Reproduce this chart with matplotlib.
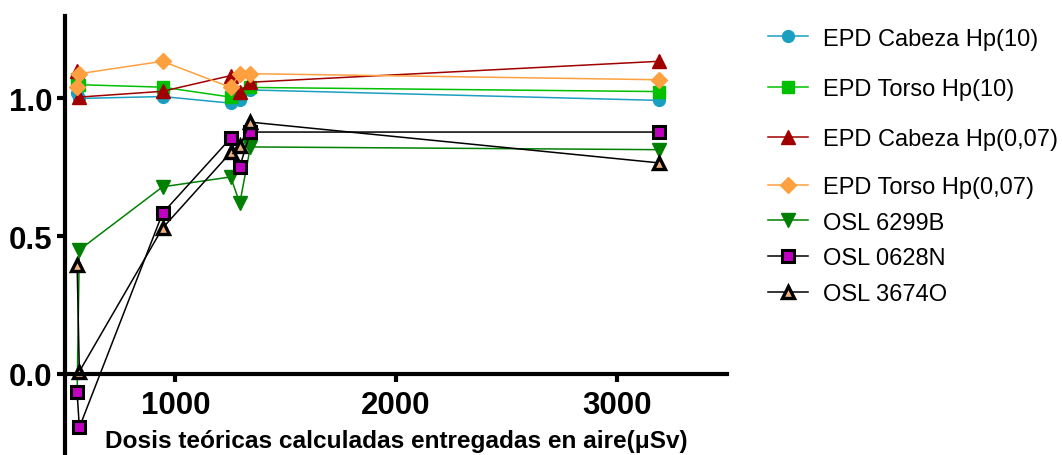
import numpy as np
import matplotlib
matplotlib.use("Agg")
import matplotlib.pyplot as plt

plt.rcParams['font.family'] = ['Liberation Sans', 'DejaVu Sans']

# dosis teóricas (µSv)
dosis = [555, 565, 942, 1251, 1292, 1340, 3192]

epd_cabeza_hp10 = [1.02, 1.00, 1.007, 0.983, 0.993, 1.031, 0.993]
epd_torso_hp10 = [1.07, 1.05, 1.041, 1.005, 1.02, 1.04, 1.025]
epd_cabeza_hp007 = [1.10, 1.005, 1.026, 1.083, 1.023, 1.059, 1.135]
epd_torso_hp007 = [1.04, 1.09, 1.135, 1.04, 1.09, 1.09, 1.068]
osl_6299b = [-0.07, 0.45, 0.679, 0.715, 0.619, 0.824, 0.814]
osl_0628n = [-0.068, -0.195, 0.583, 0.856, 0.752, 0.878, 0.878]
osl_3674o = [0.396, 0.008, 0.529, 0.804, 0.827, 0.914, 0.766]

fig = plt.figure(figsize=(10.62, 4.56), dpi=100)
ax = fig.add_axes([0.0612, -0.003, 0.6234, 0.966])

lw = 1.1
l1, = ax.plot(dosis, epd_cabeza_hp10, '-o', color='#1a9fc0', lw=lw, ms=8.5, label='EPD Cabeza Hp(10)')
l2, = ax.plot(dosis, epd_torso_hp10, '-s', color='#00c000', lw=lw, ms=9, label='EPD Torso Hp(10)')
l3, = ax.plot(dosis, epd_cabeza_hp007, '-^', color='#a00000', lw=lw, ms=9.5, label='EPD Cabeza Hp(0,07)')
l4, = ax.plot(dosis, epd_torso_hp007, '-D', color='#ffa040', lw=lw, ms=8, label='EPD Torso Hp(0,07)')
l5, = ax.plot(dosis, osl_6299b, '-v', color='#008000', lw=lw, ms=9.5, label='OSL 6299B')
l6, = ax.plot(dosis, osl_0628n, '-s', color='black', mfc='#c000c0', mec='black', mew=2.2,
              lw=lw, ms=9, label='OSL 0628N')
l7, = ax.plot(dosis, osl_3674o, '-^', color='black', mfc='#f0b080', mec='black', mew=2.4,
              lw=lw, ms=8.5, label='OSL 3674O')

ax.set_xlim(500, 3500)
ax.set_ylim(-0.3, 1.3)
ax.spines['top'].set_visible(False)
ax.spines['right'].set_visible(False)
ax.spines['bottom'].set_position(('data', 0))
for s in ['left', 'bottom']:
    ax.spines[s].set_linewidth(3)
ax.set_xticks([1000, 2000, 3000])
ax.set_yticks([0.0, 0.5, 1.0])
ax.set_yticklabels(['0.0', '0.5', '1.0'])
ax.tick_params(axis='both', length=6, width=3, labelsize=22.5)
ax.tick_params(axis='x', pad=6)
ax.tick_params(axis='y', pad=3)
for t in ax.get_xticklabels() + ax.get_yticklabels():
    t.set_fontweight('bold')

ax.set_xlabel('Dosis teóricas calculadas entregadas en aire(\u03bcSv)', fontsize=17.6,
              fontweight='bold')
ax.xaxis.set_label_coords(0.5, 0.062)

leg_kw = dict(loc='upper left', frameon=False, fontsize=17, handlelength=1.7,
              handletextpad=0.65, borderpad=0, borderaxespad=0)
leg1 = fig.legend(handles=[l1, l2, l3], bbox_to_anchor=(0.7227, 0.937),
                  labelspacing=1.2, **leg_kw)
leg2 = fig.legend(handles=[l4, l5, l6, l7], bbox_to_anchor=(0.7227, 0.612),
                  labelspacing=0.58, **leg_kw)

fig.savefig('out.png', dpi=100)
